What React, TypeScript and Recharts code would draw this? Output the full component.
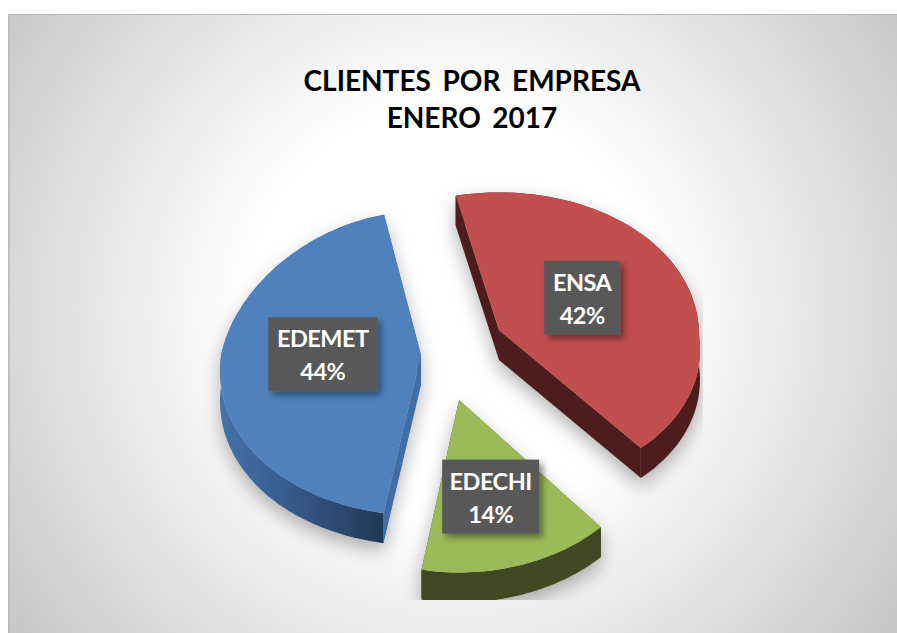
import { Pie, PieChart } from "recharts";

const empresas = ["ENSA", "EDECHI", "EDEMET"];
const porcentajes = [42, 14.2, 43.8];
const colores = ["#c0504d", "#9bbb59", "#4f81bd"];

const data = empresas.map((name, i) => ({
  name,
  value: porcentajes[i],
  fill: colores[i],
}));

// how each slice is pulled out and squashed on the fake 3d plane
const sliceViews: Record<string, any> = {
  ENSA: { dx: 39, dy: -20, ry: 147, py: 0.03, yc: 5, pFar: 0, labelAt: 0.5, labelDx: -6, labelDy: -2, boxW: 76 },
  EDECHI: { dx: -1, dy: 50, ry: 155, py: 0.1, yc: 2, pFar: 0.1, labelAt: 0.65, labelDx: -7, labelDy: -11, boxW: 97 },
  EDEMET: { dx: -39, dy: 5, ry: 152, py: 0.05, yc: 1, pFar: 0.15, labelAt: 0.5, labelDx: 2, labelDy: -3, boxW: 109 },
};

const wallColors: Record<string, { rim: string; cut: string }> = {
  ENSA: { rim: "#4e1f1d", cut: "#4e1f1d" },
  EDECHI: { rim: "#414a21", cut: "#414a21" },
  EDEMET: { rim: "url(#edemetWall)", cut: "#3f6da3" },
};

const DEPTH = 30;
const PERSPECTIVE = 0.1;

function project(view: any, cx: number, cy: number, r: number, angle: number, k = 1) {
  const rad = (angle * Math.PI) / 180;
  const s = Math.sin(rad);
  const c = Math.cos(rad);
  const p = s > 0 ? view.pFar : PERSPECTIVE;
  return {
    x: cx + view.dx + k * r * c * (1 - p * s),
    y: cy + view.dy + k * (view.yc - view.ry * s * (1 - view.py * s)),
  };
}

const toPath = (pts: { x: number; y: number }[]) =>
  pts.map((p, i) => `${i ? "L" : "M"}${p.x.toFixed(1)},${p.y.toFixed(1)}`).join(" ") + " Z";

const down = (p: { x: number; y: number }) => ({ x: p.x, y: p.y + DEPTH });

function Slice3D(props: any) {
  const { cx, cy, outerRadius, startAngle, endAngle, fill, name } = props;
  const view = sliceViews[name];
  const walls = wallColors[name];
  const steps = 80;
  const rim = [];
  for (let i = 0; i <= steps; i++) {
    rim.push(project(view, cx, cy, outerRadius, startAngle + ((endAngle - startAngle) * i) / steps));
  }
  const apex = project(view, cx, cy, outerRadius, 0, 0);
  apex.y = cy + view.dy;
  const first = rim[0];
  const last = rim[rim.length - 1];
  const rimWall = [...rim, ...rim.map(down).reverse()];

  return (
    <g clipPath="url(#pieClip)">
      <g filter="url(#pieShadow)">
        <path d={toPath([apex, first, down(first), down(apex)])} fill={walls.cut} />
        <path d={toPath([apex, last, down(last), down(apex)])} fill={walls.cut} />
        <path d={toPath(rimWall)} fill={walls.rim} />
        <path d={toPath([apex, ...rim])} fill={fill} />
      </g>
    </g>
  );
}

function renderLabel(props: any) {
  const { cx, cy, outerRadius, midAngle, name, value } = props;
  const view = sliceViews[name];
  const p = project(view, cx, cy, outerRadius, midAngle, view.labelAt);
  const lx = p.x + view.labelDx;
  const ly = p.y + view.labelDy;
  const textStyle = {
    fill: "#ffffff",
    fontFamily: "Lato",
    fontWeight: 700,
    fontSize: 23.5,
    letterSpacing: -0.5,
  };
  return (
    <g>
      <rect
        x={lx - view.boxW / 2}
        y={ly - 37}
        width={view.boxW}
        height={74}
        fill="#595959"
        filter="url(#boxShadow)"
      />
      <text x={lx} y={ly - 7} textAnchor="middle" style={textStyle}>
        {name}
      </text>
      <text x={lx} y={ly + 26} textAnchor="middle" style={textStyle}>
        {Math.round(value)}%
      </text>
    </g>
  );
}

export default function App() {
  return (
    <div style={{ position: "absolute", left: 0, top: 0, width: 897, height: 633, background: "#fff", overflow: "hidden" }}>
      <div
        style={{
          position: "absolute",
          left: 8,
          top: 14,
          width: 889,
          height: 619,
          boxSizing: "border-box",
          borderTop: "1px solid #b8b8b8",
          borderLeft: "2px solid #bdbdbd",
          background: "radial-gradient(circle farthest-corner at 442px 296px, #ffffff 0%, #ffffff 38%, #c6c6c6 100%)",
        }}
      />
      <div
        style={{
          position: "absolute",
          left: 272,
          top: 62,
          width: 400,
          textAlign: "center",
          whiteSpace: "pre",
          fontFamily: "Lato",
          fontWeight: 700,
          fontSize: 28,
          lineHeight: "37px",
          wordSpacing: -1,
          color: "#000",
        }}
      >
        {"CLIENTES  POR  EMPRESA\nENERO  2017"}
      </div>
      <div style={{ position: "absolute", left: 0, top: 0 }}>
        <PieChart width={897} height={633} margin={{ top: 0, right: 0, bottom: 0, left: 0 }}>
          <defs>
            <linearGradient id="edemetWall" gradientUnits="userSpaceOnUse" x1="219" y1="0" x2="384" y2="0">
              <stop offset="0%" stopColor="#4472aa" />
              <stop offset="45%" stopColor="#35598a" />
              <stop offset="100%" stopColor="#223856" />
            </linearGradient>
            <filter id="pieShadow" x="-30%" y="-30%" width="160%" height="160%">
              <feDropShadow dx={0} dy={8} stdDeviation={9} floodColor="#000" floodOpacity={0.3} />
            </filter>
            <filter id="boxShadow" x="-30%" y="-30%" width="160%" height="160%">
              <feDropShadow dx={4} dy={4} stdDeviation={3} floodColor="#000" floodOpacity={0.4} />
            </filter>
            <clipPath id="pieClip">
              <rect x={180} y={160} width={523} height={440} />
            </clipPath>
          </defs>
          <Pie
            data={data}
            dataKey="value"
            nameKey="name"
            cx={460}
            cy={350}
            outerRadius={200}
            startAngle={102.5}
            endAngle={-257.5}
            stroke="none"
            shape={Slice3D}
            label={renderLabel}
            labelLine={false}
            isAnimationActive={false}
          />
        </PieChart>
      </div>
    </div>
  );
}
